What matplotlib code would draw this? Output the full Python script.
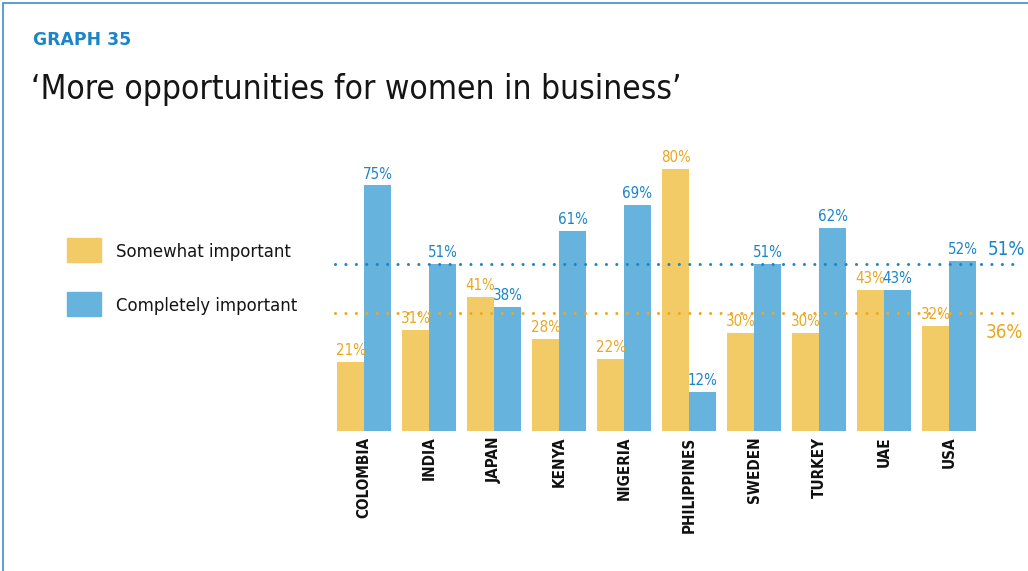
import numpy as np
import matplotlib.pyplot as plt
from matplotlib.patches import Rectangle

# data
countries = ["COLOMBIA", "INDIA", "JAPAN", "KENYA", "NIGERIA",
             "PHILIPPINES", "SWEDEN", "TURKEY", "UAE", "USA"]
somewhat = [21, 31, 41, 28, 22, 80, 30, 30, 43, 32]
completely = [75, 51, 38, 61, 69, 12, 51, 62, 43, 52]
avg_somewhat = 36
avg_completely = 51

# colours
bar_yellow = "#F2CB67"
bar_blue = "#66B3DD"
txt_yellow = "#EAA71C"
txt_blue = "#1A84C6"

FONT = dict(family="DejaVu Sans", stretch="condensed")

fig = plt.figure(figsize=(10.28, 5.71), dpi=100)

# frame round the graphic (left + top edge visible)
fig.patches.append(Rectangle((3 / 1028, -0.1), 1.2, (571 - 3) / 571 + 0.1,
                             transform=fig.transFigure, fill=False,
                             edgecolor="#3F8DC5", lw=1.2))

fig.text(33 / 1028, 1 - 40 / 571, "GRAPH 35", color="#1A86C8", fontsize=12.4,
         fontweight="bold", va="center", ha="left", family="DejaVu Sans")
fig.text(31 / 1028, 1 - 89 / 571, "\u2018More opportunities for women in business\u2019",
         color="#151515", fontsize=24, va="center", ha="left",
         fontweight="light", **FONT)

# legend
for y, col, lab in [(250, bar_yellow, "Somewhat important"),
                    (304, bar_blue, "Completely important")]:
    fig.patches.append(Rectangle((67 / 1028, 1 - (y + 12) / 571), 34 / 1028, 24 / 571,
                                 transform=fig.transFigure, color=col))
    fig.text(116 / 1028, 1 - (y + 2) / 571, lab, fontsize=13.2, color="#151515",
             va="center", ha="left", **FONT)

ax = fig.add_axes([330 / 1028, (571 - 431) / 571, 698 / 1028, 291 / 571])
x = np.arange(len(countries))
w = 0.415
ax.bar(x - w / 2, somewhat, w, color=bar_yellow, zorder=2)
ax.bar(x + w / 2, completely, w, color=bar_blue, zorder=2)

for xi, v in zip(x - w / 2, somewhat):
    ax.text(xi, v + 1.2, f"{v}%", ha="center", va="bottom", color=txt_yellow,
            fontsize=10.8, zorder=4, **FONT)
for xi, v in zip(x + w / 2, completely):
    ax.text(xi, v + 1.2, f"{v}%", ha="center", va="bottom", color=txt_blue,
            fontsize=10.8, zorder=4, **FONT)

# average dotted lines
x0, x1 = -0.45, 10.11
for val, col in [(avg_completely, "#1A86C8"), (avg_somewhat, "#F0A81A")]:
    ax.plot([x0, x1], [val, val], color=col, lw=2.2, dashes=[0.01, 3.4],
            dash_capstyle="round", zorder=3)
ax.text(9.89, avg_completely + 1.5, f"{avg_completely}%", color=txt_blue,
        fontsize=13.5, ha="center", va="bottom", **FONT)
ax.text(9.85, avg_somewhat - 3.0, f"{avg_somewhat}%", color=txt_yellow,
        fontsize=13.5, ha="center", va="top", **FONT)

ax.set_xlim(-0.523, 10.215)
ax.set_ylim(0, 88.9)
ax.set_xticks(x)
ax.set_xticklabels(countries, rotation=90, fontsize=11, fontweight="bold",
                   color="#111111", **FONT)
ax.tick_params(axis="x", length=0, pad=4)
ax.set_yticks([])
for s in ax.spines.values():
    s.set_visible(False)
ax.patch.set_alpha(0)

fig.savefig("out.png", dpi=100)
